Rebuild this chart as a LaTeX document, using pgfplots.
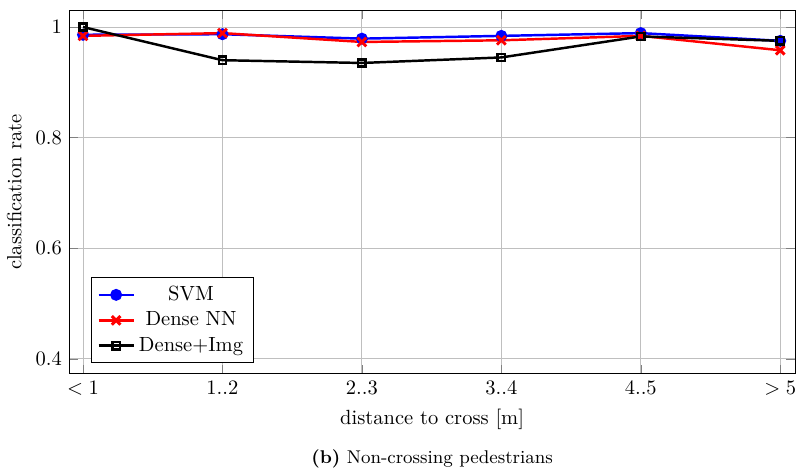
\documentclass[border=0pt]{standalone}
\usepackage{pgfplots}
\pgfplotsset{compat=1.18}
\begin{document}
\begin{tikzpicture}
\begin{axis}[
  scale only axis,
  width=354pt, height=177pt,
  xmin=-0.1, xmax=5.107,
  ymin=0.373, ymax=1.0296,
  xtick={0,1,2,3,4,5},
  xticklabels={$<1$,1..2,2..3,3..4,4..5,$>5$},
  ytick={0.4,0.6,0.8,1},
  grid=major,
  xlabel={distance to cross [m]},
  ylabel={classification rate},
  legend pos=south west,
  legend cell align=center,
  clip=false,
]
\addplot[blue, very thick, mark=*, mark size=2.3pt] coordinates {
(0,0.986) (1,0.987) (2,0.979) (3,0.984) (4,0.989) (5,0.975)};
\addlegendentry{SVM}
\addplot[red, very thick, mark=x, mark size=3pt, mark options={line width=1.4pt}] coordinates {
(0,0.984) (1,0.989) (2,0.973) (3,0.976) (4,0.984) (5,0.958)};
\addlegendentry{Dense NN}
\addplot[black, very thick, mark=square, mark size=1.8pt] coordinates {
(0,1.0) (1,0.940) (2,0.935) (3,0.945) (4,0.983) (5,0.975)};
\addlegendentry{Dense+Img}
\node[font=\small] at (rel axis cs:0.5,-0.234) {\textbf{(b)} Non-crossing pedestrians};
\path ([xshift=2.5pt,yshift=5.2pt]rel axis cs:1,1) circle (0pt);
\path ([yshift=-6pt]rel axis cs:0.5,-0.234) circle (0pt);
\end{axis}
\end{tikzpicture}
\end{document}
